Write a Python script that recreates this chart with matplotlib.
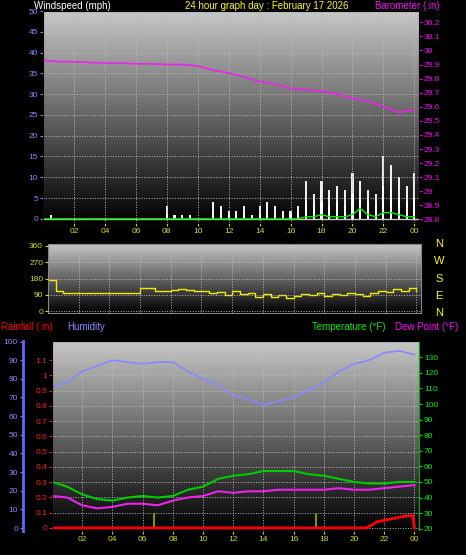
import numpy as np
import matplotlib.pyplot as plt

plt.rcParams['font.family'] = ['Liberation Sans', 'DejaVu Sans']

# ---- data ----
hours = list(range(0, 25))
half_hours = [i * 0.5 for i in range(49)]

barometer = [29.93, 29.92, 29.92, 29.915, 29.91, 29.91, 29.905, 29.905, 29.90, 29.90,
             29.89, 29.86, 29.84, 29.81, 29.78, 29.76, 29.73, 29.72, 29.71, 29.69,
             29.66, 29.64, 29.60, 29.56, 29.58]

wind_gust = [0, 1, 0, 0, 0, 0, 0, 0, 0, 0, 0, 0, 0, 0, 0, 0, 3, 1, 1, 1, 0, 0, 4, 3,
             2, 2, 3, 1, 3, 4, 3, 2, 2, 3, 9, 6, 9, 7, 8, 7, 11, 9, 7, 6, 15, 13, 10, 8, 11]
wind_avg = [0, 0, 0, 0, 0, 0, 0, 0, 0, 0, 0, 0, 0, 0, 0, 0, 1, 0, 0, 0, 0, 0, 1, 1,
            1, 1, 1, 0, 1, 1, 1, 1, 1, 1, 4, 3, 4, 3, 4, 3, 6, 5, 4, 3, 8, 7, 5, 4, 5]
wind_low = [0] * 28 + [0, 0, 0, 0, 0, 0, 0.5, 0.5, 1, 0.5, 0.5, 0.5, 1, 2.5, 1, 0.5, 1.5, 1.5, 1, 0.5, 0.5]

wind_dir = [170, 110, 100, 100, 100, 100, 100, 100, 100, 100, 100, 100, 125, 125,
            110, 110, 115, 120, 118, 110, 112, 100, 105, 88, 110, 95, 100, 80, 96,
            78, 90, 72, 82, 95, 88, 100, 86, 96, 90, 100, 95, 85, 100, 110, 105,
            120, 110, 125, 110]

humidity = [76, 78, 84, 87, 90, 89, 88, 89, 89, 84, 80, 77, 71, 69, 66, 68, 70, 74,
            78, 84, 88, 90, 94, 95, 93]
temperature = [50, 47, 42, 39, 38, 40, 41, 40, 41, 45, 47, 52, 54, 55, 57, 57, 57, 55,
               54, 52, 50, 49, 49, 50, 50]
dew_point = [41, 40, 35, 33, 34, 36, 36, 35, 38, 40, 41, 44, 43, 44, 44, 45, 45, 45,
             45, 46, 45, 45, 46, 47, 48]
rain_t = [0, 20.8, 21.2, 21.5, 22.0, 22.5, 23.0, 23.5, 23.9, 24.0]
rain_v = [0, 0, 0.02, 0.04, 0.05, 0.06, 0.07, 0.08, 0.08, 0.0]
markers = [6.75, 17.5]

xticks = [2, 4, 6, 8, 10, 12, 14, 16, 18, 20, 22, 24]
xlabels = ['02', '04', '06', '08', '10', '12', '14', '16', '18', '20', '22', '00']

W, H = 466, 555
fig = plt.figure(figsize=(W / 100, H / 100), dpi=100, facecolor='black')
grad = np.linspace(0.78, 0.0, 256).reshape(-1, 1)


def pax(x0, y0, x1, y1):
    return fig.add_axes([x0 / W, 1 - y1 / H, (x1 - x0) / W, (y1 - y0) / H])


def style(ax, ycol):
    ax.imshow(grad, cmap='gray', vmin=0, vmax=1, aspect='auto',
              extent=[0, 24.3, *ax.get_ylim()], zorder=0)
    ax.set_xlim(0, 24.3)
    ax.grid(True, color='#bbbbbb', ls=':', lw=0.7)
    ax.set_axisbelow(False)
    for s in ax.spines.values():
        s.set_color('#888888')
    ax.tick_params(colors=ycol, labelsize=6, length=2, pad=1.5)
    ax.set_xticks(xticks)


# ---- wind / barometer ----
ax1 = pax(43, 11, 419, 223)
ax1.set_ylim(-1, 50)
style(ax1, '#8888ff')
ax1.set_yticks(range(0, 51, 5))
ax1.bar(half_hours, wind_gust, width=0.14, color='#eeeeee', zorder=2)
ax1.bar(half_hours, wind_avg, width=0.14, color='#ffffff', zorder=3)
ax1.plot(half_hours, wind_low, color='#00ee00', lw=1, zorder=4)
ax1.axhline(0, color='#cccccc', lw=1, zorder=1)
ax1.set_xticklabels(xlabels, color='#dddd00')
ax1.tick_params(axis='x', colors='#dddd00')
ax1b = ax1.twinx()
ax1b.set_ylim(28.775, 30.28)
ax1b.set_yticks(np.arange(28.8, 30.25, 0.1))
ax1b.set_yticklabels(['28.8', '28.9', '29', '29.1', '29.2', '29.3', '29.4', '29.5',
                      '29.6', '29.7', '29.8', '29.9', '30', '30.1', '30.2'])
ax1b.tick_params(colors='#ff00ff', labelsize=6, length=2, pad=1.5)
ax1b.plot(hours, barometer, color='#ee22ee', lw=1.2)
fig.text(34 / W, 1 - 6 / H, 'Windspeed (mph)', color='white', fontsize=7, va='center')
fig.text(267 / W, 1 - 6 / H, '24 hour graph day : February 17 2026', color='yellow',
         fontsize=7, va='center', ha='center')
fig.text(440 / W, 1 - 6 / H, 'Barometer (.in)', color='#ff00ff', fontsize=7,
         va='center', ha='right')

# ---- wind direction ----
ax2 = pax(48, 244, 421, 313)
ax2.set_ylim(-10, 370)
style(ax2, '#dddd00')
ax2.set_yticks([0, 90, 180, 270, 360])
ax2.set_xticklabels([])
ax2.tick_params(axis='x', length=0)
ax2.plot(half_hours, wind_dir, color='#eeee00', lw=1, drawstyle='steps-post')
for lab, yy in zip('NWSEN', [244, 261, 279, 296, 313]):
    fig.text(439 / W, 1 - yy / H, lab, color='yellow', fontsize=8, ha='center', va='center')

# ---- humidity / temperature / rain ----
ax3 = pax(52, 341, 419, 531)
ax3.set_ylim(-0.02, 1.225)
style(ax3, '#ff2222')
ax3.set_yticks(np.arange(0, 1.15, 0.1))
ax3.set_yticklabels(['0', '0.1', '0.2', '0.3', '0.4', '0.5', '0.6', '0.7', '0.8',
                     '0.9', '1', '1.1'])
ax3.set_xticklabels(xlabels, color='#dddd00')
ax3.tick_params(axis='x', colors='#dddd00')
ax3.spines['left'].set_color('#ff4444')
ax3.spines['left'].set_linestyle('--')
ax3.plot(rain_t, rain_v, color='#ff0000', lw=2, zorder=5)
ax3.vlines(markers, 0, 0.1, color='#aaaa00', lw=1.2, zorder=4)

axh = ax3.twinx()
axh.spines['left'].set_visible(True)
axh.spines['left'].set_position(('outward', 21))
axh.spines['left'].set_color('#6666ff')
axh.spines['left'].set_linewidth(2)
axh.spines['right'].set_visible(False)
axh.yaxis.set_ticks_position('left')
axh.set_ylim(-1.6, 100.3)
axh.set_yticks(range(0, 101, 10))
axh.tick_params(colors='#8888ff', labelsize=6, length=2, pad=1.5)
axh.plot(hours, humidity, color='#8888ff', lw=1.2)

axt = ax3.twinx()
axt.set_ylim(18.5, 140.5)
axt.set_yticks(range(20, 131, 10))
axt.tick_params(colors='#00ee00', labelsize=6, length=2, pad=1.5)
axt.spines['right'].set_color('#00aa00')
axt.plot(hours, temperature, color='#00cc00', lw=1.5)
axt.plot(hours, dew_point, color='#ee22ee', lw=1.5)

fig.text(1 / W, 1 - 327 / H, 'Rainfall (.in)', color='red', fontsize=7, va='center')
fig.text(67 / W, 1 - 327 / H, 'Humidity', color='#8888ff', fontsize=7, va='center')
fig.text(312 / W, 1 - 327 / H, 'Temperature (°F)', color='#00ee00', fontsize=7, va='center')
fig.text(395 / W, 1 - 327 / H, 'Dew Point (°F)', color='#ff00ff', fontsize=7, va='center')

fig.savefig('out.png', dpi=100, facecolor='black')
